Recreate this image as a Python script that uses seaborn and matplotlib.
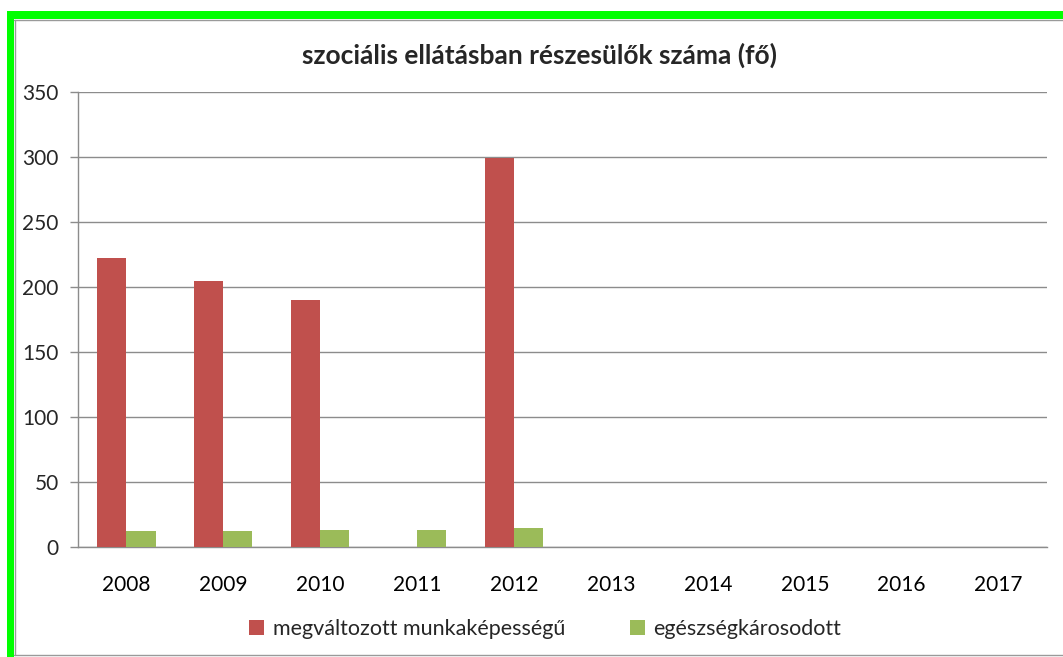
import numpy as np
import pandas as pd
import seaborn as sns
import matplotlib.pyplot as plt
from matplotlib.patches import Rectangle
from matplotlib.lines import Line2D

years = ["2008", "2009", "2010", "2011", "2012", "2013", "2014", "2015", "2016", "2017"]
munkakepesseg = [222, 205, 190, np.nan, 299, np.nan, np.nan, np.nan, np.nan, np.nan]
egeszsegkarosodott = [12, 12, 13, 13, 15, np.nan, np.nan, np.nan, np.nan, np.nan]
series_names = ["megváltozott munkaképességű", "egészségkárosodott"]
title = "szociális ellátásban részesülők száma (fő)"

df = pd.DataFrame({
    "ev": years * 2,
    "fo": munkakepesseg + egeszsegkarosodott,
    "csoport": [series_names[0]] * len(years) + [series_names[1]] * len(years),
})

sns.set_style("white")
plt.rcParams["font.family"] = ["Lato", "DejaVu Sans"]

fig = plt.figure(figsize=(10.63, 6.57), dpi=100)
ax = fig.add_axes([78 / 1063, 1 - 547 / 657, (1047 - 78) / 1063, (547 - 92) / 657])

sns.barplot(data=df, x="ev", y="fo", hue="csoport", order=years, hue_order=series_names,
            palette=["#C0504D", "#9BBB59"], saturation=1, width=0.6, linewidth=0, ax=ax, zorder=3)

ax.set_ylim(0, 350)
ax.set_yticks(range(0, 351, 50))
ax.set_xlim(-0.5, len(years) - 0.5)
ax.yaxis.grid(True, color="#8c8c8c", linewidth=1, zorder=0)
ax.set_axisbelow(True)
ax.set_xlabel("")
ax.set_ylabel("")
for s in ["top", "right"]:
    ax.spines[s].set_visible(False)
for s in ["left", "bottom"]:
    ax.spines[s].set_color("#8c8c8c")
    ax.spines[s].set_linewidth(1)

# category boundary ticks on x
ax.set_xticks(np.arange(-0.5, len(years), 1), minor=True)
ax.tick_params(axis="x", which="major", length=0, pad=20, labelsize=15, colors="black")
ax.tick_params(axis="x", which="minor", length=6, color="#8c8c8c", width=1, direction="out")
ax.tick_params(axis="y", length=6, color="#8c8c8c", width=1, pad=8, labelsize=15, left=True)

fig.suptitle(title, x=540 / 1063, y=1 - 55 / 657, va="center", fontsize=19, fontweight="bold")

handles, labels = ax.get_legend_handles_labels()
ax.legend_.remove()
fig.legend(handles, labels, loc="center", bbox_to_anchor=(545 / 1063, 1 - 629 / 657), ncol=2,
           frameon=False, fontsize=15.5, handlelength=0.7, handleheight=0.7,
           handletextpad=0.4, columnspacing=3.0)

# green frame around the chart
fig.add_artist(Rectangle((7 / 1063, 0), 7 / 1063, 1 - 11 / 657, transform=fig.transFigure,
                         facecolor="#00ff00", edgecolor="none"))
fig.add_artist(Rectangle((7 / 1063, 1 - 19 / 657), 1 - 7 / 1063, 8 / 657, transform=fig.transFigure,
                         facecolor="#00ff00", edgecolor="none"))
fig.add_artist(Line2D([14 / 1063, 1], [1 - 20 / 657, 1 - 20 / 657], transform=fig.transFigure,
                      color="#9a9a9a", linewidth=1))
fig.add_artist(Line2D([15 / 1063, 15 / 1063], [1 - 20 / 657, 2 / 657], transform=fig.transFigure,
                      color="#9a9a9a", linewidth=1))
fig.add_artist(Line2D([14 / 1063, 1], [2 / 657, 2 / 657], transform=fig.transFigure,
                      color="#9a9a9a", linewidth=1))

fig.savefig("out.png", dpi=100)
